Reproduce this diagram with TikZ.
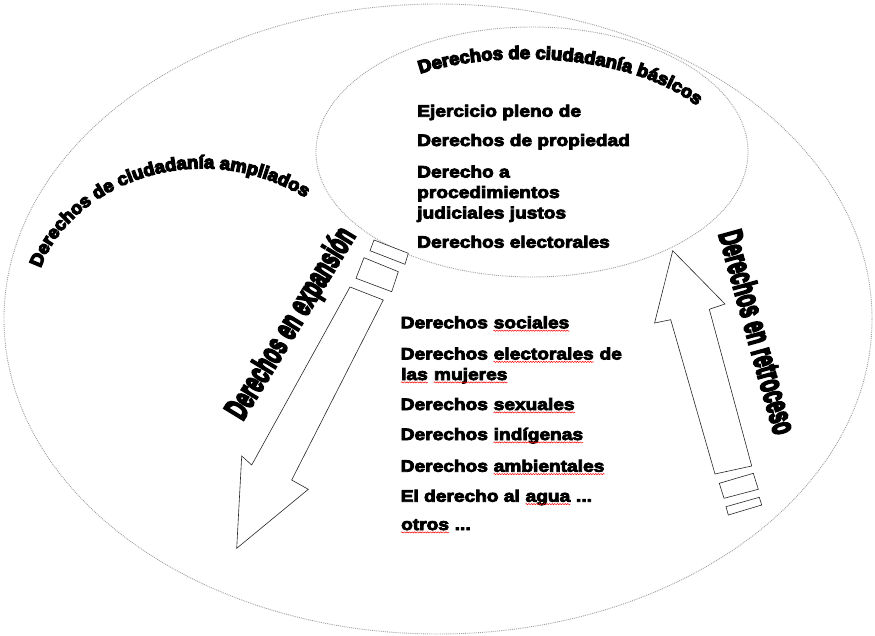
\documentclass[tikz,border=0pt]{standalone}
\usepackage{fontspec}
\usepackage{graphicx}
\setmainfont{Liberation Sans}
\newfontfamily\blackfont[FakeStretch=1.16,FakeBold=5]{Liberation Sans Bold}
\newfontfamily\heavyfont[FakeStretch=1.03,FakeBold=7]{Liberation Sans Bold}
\usetikzlibrary{decorations.text,decorations.pathmorphing}

\newcommand\itemfont{\blackfont\fontsize{16.5}{20.5}\selectfont}
\newcommand\curvefont{\heavyfont\fontsize{18}{18}\selectfont}
% red spell-check wave under a word
\newcommand\spell[1]{\tikz[baseline=(w.base)]{\node[inner sep=0pt, anchor=base] (w) {#1};
  \draw[red, line width=0.5pt, decorate, decoration={snake, amplitude=0.6pt, segment length=2.6pt}]
    ([yshift=-2.4pt]w.base west) -- ([yshift=-2.4pt]w.base east);}}

\begin{document}
\begin{tikzpicture}[x=1pt,y=-1pt,
  rim/.style={draw=gray!75, densely dotted, line width=0.9pt},
  hollow/.style={draw=black!85, line width=0.6pt, fill=white},
  item/.style={anchor=base west, inner sep=0pt, align=left, font=\itemfont},
  tilted/.style={inner sep=0pt, font=\heavyfont}]
\useasboundingbox (0,0) rectangle (875,636);
\draw[rim] (438,319) ellipse (434 and 315);
\draw[rim] (532,152) ellipse (216 and 125);
\path[decorate, decoration={text along path, text align=center,
  text={|\curvefont|Derechos de ciudadanía básicos}}]
  (414,76) .. controls (480,50) and (630,48) .. (702,110);
\path[decorate, decoration={text along path, text align=center,
  text={|\curvefont|Derechos de ciudadanía ampliados}}]
  (36,290) .. controls (44,200) and (195,115) .. (324,210);
% expansion arrow
\draw[hollow] (350,287) -- (383.3,300) -- (291.7,480) -- (308.3,489.3) -- (236.7,548.3) -- (241.7,456) -- (251.7,465) -- cycle;
\draw[hollow] (364,257.7) -- (398.3,271.7) -- (391.7,291.7) -- (356,278.3) -- cycle;
\draw[hollow] (374,240) -- (408.3,253.3) -- (405,264.3) -- (370,250.7) -- cycle;
% retroceso arrow
\draw[hollow] (672.7,250.7) -- (725,304) -- (709.3,309.3) -- (751.7,466) -- (715,474) -- (670.7,319.7) -- (654.6,323) -- cycle;
\draw[hollow] (719.3,483.3) -- (753.3,473.3) -- (758.3,489.3) -- (724,498.3) -- cycle;
\draw[hollow] (726,506.7) -- (759.3,497.3) -- (761.7,505) -- (728.3,515) -- cycle;
\node[tilted, rotate=58.6] (expand) at (292,324) {\resizebox{218pt}{24pt}{Derechos en expansión}};
\node[tilted, rotate=-74.5] (retreat) at (758,332) {\resizebox{210pt}{24pt}{Derechos en retroceso}};
% basic rights
\node[item] (b1) at (417,116.7) {Ejercicio pleno de};
\node[item] (b2) at (417,146) {Derechos de propiedad};
\node[item] (b3) at (417,218.5) {Derecho a\\procedimientos\\judiciales justos};
\node[item] (b4) at (417,247.7) {Derechos electorales};
% extended rights
\node[item] (e1) at (400.5,328.3) {Derechos \spell{sociales}};
\node[item] (e2) at (400.5,380) {Derechos \spell{electorales} de\\\spell{las} \spell{mujeres}};
\node[item] (e3) at (400.5,410) {Derechos \spell{sexuales}};
\node[item] (e4) at (400.5,440) {Derechos \spell{indígenas}};
\node[item] (e5) at (400.5,471.7) {Derechos \spell{ambientales}};
\node[item] (e6) at (400.5,501.7) {El derecho al \spell{agua} ...};
\node[item] (e7) at (400.5,530) {\spell{otros} ...};
\end{tikzpicture}
\end{document}
